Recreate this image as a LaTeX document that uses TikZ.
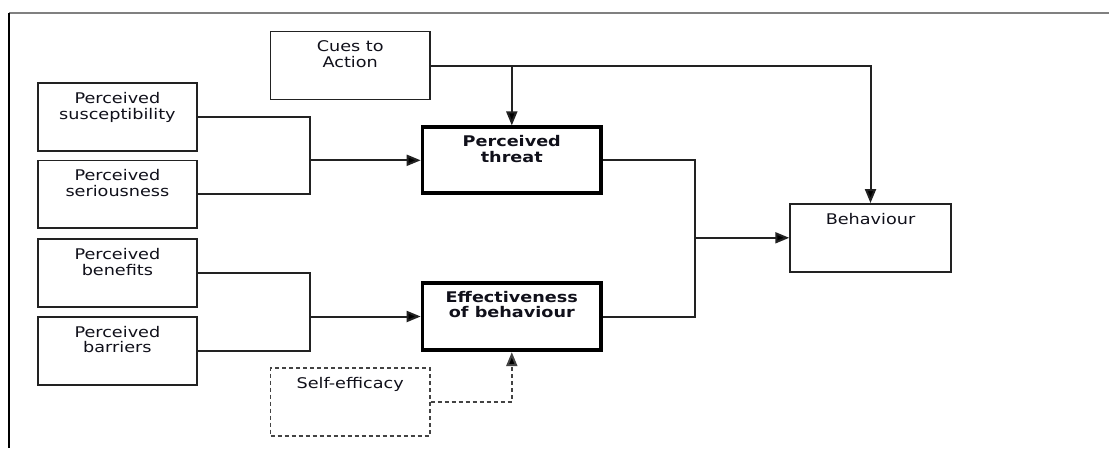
\documentclass[tikz,border=0pt]{standalone}
\usepackage{fontspec}
\setmainfont[FakeStretch=1.2]{DejaVu Sans}
\usetikzlibrary{arrows.meta}
\definecolor{linegray}{HTML}{222222}
\definecolor{txt}{HTML}{10101A}
\begin{document}
\begin{tikzpicture}[x=1pt,y=-1pt,
  every node/.style={font=\fontsize{14.7}{15.5}\selectfont, text=txt},
  plainbox/.style={draw=linegray, line width=1.7pt, minimum width=159.3pt, minimum height=67.8pt, inner sep=0pt},
  thickbox/.style={draw=black, line width=3.8pt, minimum width=178.5pt, minimum height=66pt, inner sep=0pt},
  dashbox/.style={plainbox, draw=linegray!85, dash pattern=on 4pt off 3pt},
  boxtext/.style={label={[anchor=north, yshift=-10pt, inner sep=0pt, align=center, text=txt]north:#1}},
  conn/.style={draw=linegray, line width=2pt},
  arr/.style={conn, -{Triangle[length=14pt,width=11pt,fill=black]}}
]
\useasboundingbox (0,0) rectangle (1109,448);
% frame
\draw[draw=black!50, line width=1.6pt] (1109,13) -- (9,13);
\draw[draw=black, line width=1.6pt] (9,13) -- (9,448);

% boxes
\node[plainbox, boxtext={Cues to\\Action}] (cues) at (350.2,65.5) {};
\node[plainbox, boxtext={Perceived\\susceptibility}] (sus) at (117.4,117) {};
\node[plainbox, boxtext={Perceived\\seriousness}] (ser) at (117.4,194.3) {};
\node[plainbox, boxtext={Perceived\\benefits}] (ben) at (117.4,273) {};
\node[plainbox, boxtext={Perceived\\barriers}] (bar) at (117.4,350.8) {};
\node[thickbox, boxtext={\bfseries Perceived\\\bfseries threat}] (threat) at (511.8,160.3) {};
\node[thickbox, minimum height=67.5pt, boxtext={\bfseries Effectiveness\\\bfseries of behaviour}] (eff) at (511.8,316.5) {};
\node[dashbox, boxtext={Self-efficacy}] (self) at (350.2,401.8) {};
\node[plainbox, minimum width=160.8pt, boxtext={Behaviour}] (beh) at (870.5,237.8) {};

% junctions
\coordinate (j1) at (310,160.3);
\coordinate (j3) at (310,316.5);
\coordinate (j2) at (695.4,237.8);

% connectors
\draw[conn] (sus.east) -| (j1);
\draw[conn] (ser.east) -| (j1);
\draw[arr] (j1) -- (threat.west);
\draw[conn] (ben.east) -| (j3);
\draw[conn] (bar.east) -| (j3);
\draw[arr] (j3) -- (eff.west);
\draw[arr] (cues.east) -| (beh.north);
\draw[arr] (cues.east -| threat.north) -- (threat.north);
\draw[conn] (threat.east) -| (j2);
\draw[conn] (eff.east) -| (j2);
\draw[arr] (j2) -- (beh.west);
\draw[arr, draw=linegray!85, dash pattern=on 4pt off 3pt] (self.east) -| (eff.south);
\end{tikzpicture}
\end{document}
